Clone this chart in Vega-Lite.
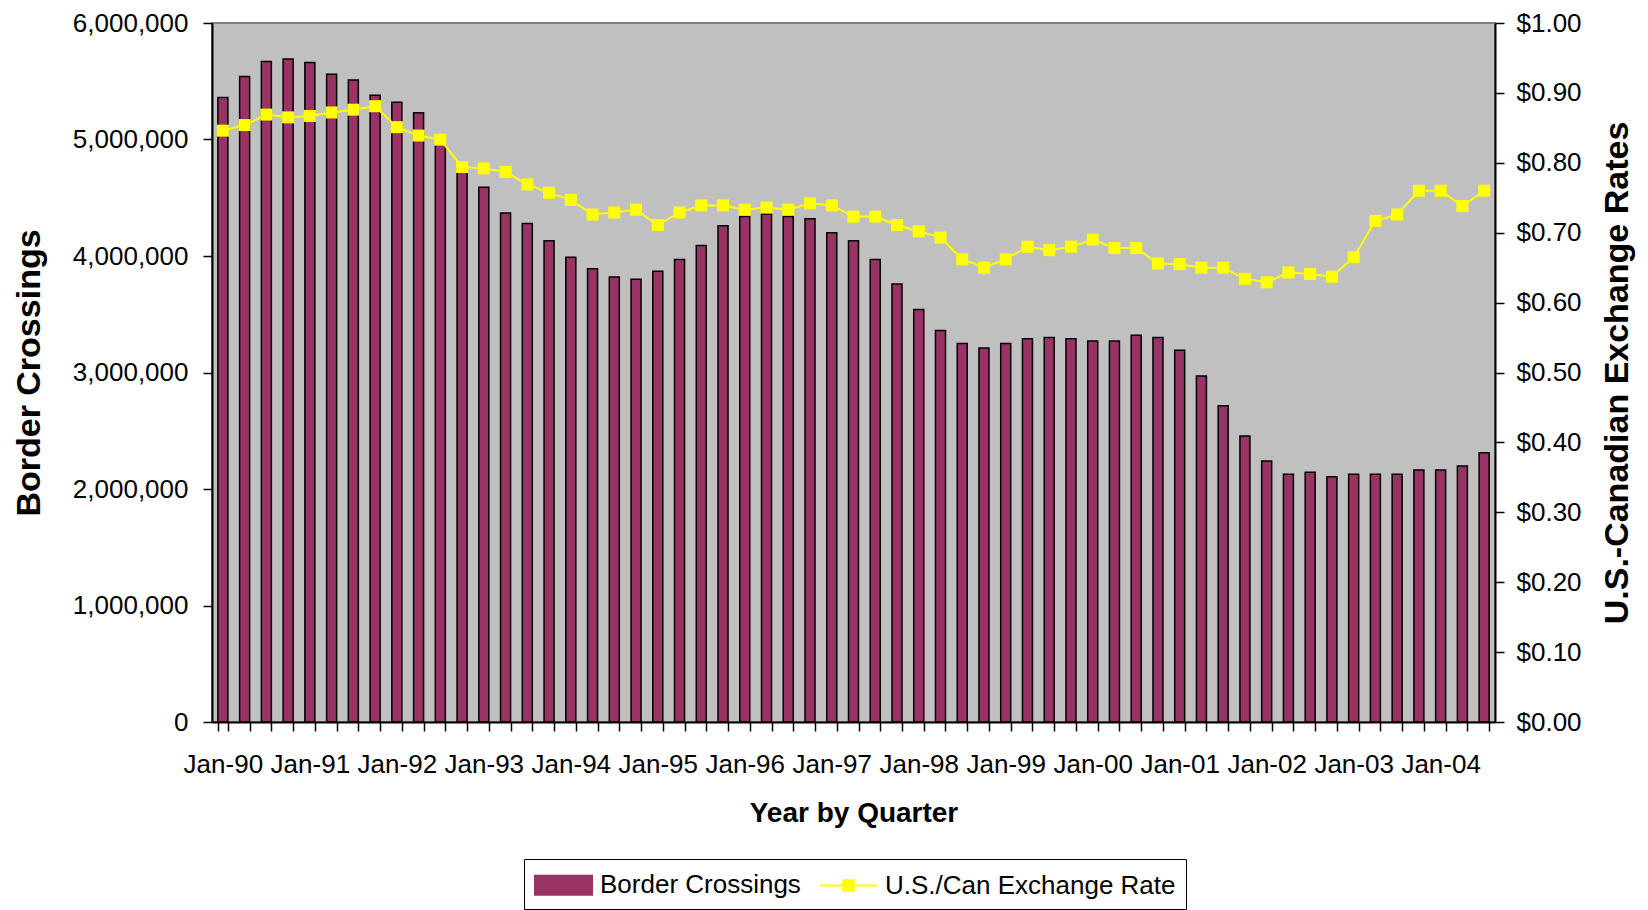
{
  "$schema": "https://vega.github.io/schema/vega-lite/v6.json",
  "width": 1283,
  "height": 699,
  "autosize": {"type": "none"},
  "padding": {"left": 212, "top": 23, "right": 153, "bottom": 188},
  "background": "white",
  "config": {
    "view": {"fill": "#c0c0c0", "stroke": "#808080", "strokeWidth": 2},
    "font": "Liberation Sans"
  },
  "data": {
    "values": [
      {"q": "Jan-90", "crossings": 5360000, "rate": 0.846},
      {"q": "Apr-90", "crossings": 5540000, "rate": 0.854},
      {"q": "Jul-90", "crossings": 5670000, "rate": 0.869},
      {"q": "Oct-90", "crossings": 5690000, "rate": 0.865},
      {"q": "Jan-91", "crossings": 5660000, "rate": 0.867},
      {"q": "Apr-91", "crossings": 5560000, "rate": 0.872},
      {"q": "Jul-91", "crossings": 5510000, "rate": 0.876},
      {"q": "Oct-91", "crossings": 5380000, "rate": 0.881},
      {"q": "Jan-92", "crossings": 5320000, "rate": 0.851},
      {"q": "Apr-92", "crossings": 5230000, "rate": 0.839},
      {"q": "Jul-92", "crossings": 4950000, "rate": 0.833},
      {"q": "Oct-92", "crossings": 4750000, "rate": 0.794},
      {"q": "Jan-93", "crossings": 4590000, "rate": 0.792},
      {"q": "Apr-93", "crossings": 4370000, "rate": 0.787},
      {"q": "Jul-93", "crossings": 4280000, "rate": 0.769},
      {"q": "Oct-93", "crossings": 4130000, "rate": 0.757},
      {"q": "Jan-94", "crossings": 3990000, "rate": 0.747},
      {"q": "Apr-94", "crossings": 3890000, "rate": 0.726},
      {"q": "Jul-94", "crossings": 3820000, "rate": 0.729},
      {"q": "Oct-94", "crossings": 3800000, "rate": 0.733},
      {"q": "Jan-95", "crossings": 3870000, "rate": 0.711},
      {"q": "Apr-95", "crossings": 3970000, "rate": 0.729},
      {"q": "Jul-95", "crossings": 4090000, "rate": 0.739},
      {"q": "Oct-95", "crossings": 4260000, "rate": 0.739},
      {"q": "Jan-96", "crossings": 4340000, "rate": 0.733},
      {"q": "Apr-96", "crossings": 4360000, "rate": 0.736},
      {"q": "Jul-96", "crossings": 4340000, "rate": 0.733},
      {"q": "Oct-96", "crossings": 4320000, "rate": 0.742},
      {"q": "Jan-97", "crossings": 4200000, "rate": 0.739},
      {"q": "Apr-97", "crossings": 4130000, "rate": 0.723},
      {"q": "Jul-97", "crossings": 3970000, "rate": 0.723},
      {"q": "Oct-97", "crossings": 3760000, "rate": 0.711},
      {"q": "Jan-98", "crossings": 3540000, "rate": 0.702},
      {"q": "Apr-98", "crossings": 3360000, "rate": 0.693},
      {"q": "Jul-98", "crossings": 3250000, "rate": 0.662},
      {"q": "Oct-98", "crossings": 3210000, "rate": 0.650},
      {"q": "Jan-99", "crossings": 3250000, "rate": 0.662},
      {"q": "Apr-99", "crossings": 3290000, "rate": 0.680},
      {"q": "Jul-99", "crossings": 3300000, "rate": 0.675},
      {"q": "Oct-99", "crossings": 3290000, "rate": 0.680},
      {"q": "Jan-00", "crossings": 3270000, "rate": 0.690},
      {"q": "Apr-00", "crossings": 3270000, "rate": 0.678},
      {"q": "Jul-00", "crossings": 3320000, "rate": 0.678},
      {"q": "Oct-00", "crossings": 3300000, "rate": 0.656},
      {"q": "Jan-01", "crossings": 3190000, "rate": 0.655},
      {"q": "Apr-01", "crossings": 2970000, "rate": 0.650},
      {"q": "Jul-01", "crossings": 2715000, "rate": 0.650},
      {"q": "Oct-01", "crossings": 2455000, "rate": 0.634},
      {"q": "Jan-02", "crossings": 2240000, "rate": 0.629},
      {"q": "Apr-02", "crossings": 2126000, "rate": 0.643},
      {"q": "Jul-02", "crossings": 2143000, "rate": 0.641},
      {"q": "Oct-02", "crossings": 2106000, "rate": 0.637},
      {"q": "Jan-03", "crossings": 2126000, "rate": 0.665},
      {"q": "Apr-03", "crossings": 2126000, "rate": 0.717},
      {"q": "Jul-03", "crossings": 2126000, "rate": 0.726},
      {"q": "Oct-03", "crossings": 2163000, "rate": 0.760},
      {"q": "Jan-04", "crossings": 2163000, "rate": 0.760},
      {"q": "Apr-04", "crossings": 2197000, "rate": 0.738},
      {"q": "Jul-04", "crossings": 2312000, "rate": 0.760}
    ]
  },
  "encoding": {
    "x": {
      "field": "q",
      "type": "ordinal",
      "sort": null,
      "scale": {"paddingInner": 0.54, "paddingOuter": 0.27},
      "axis": {
        "title": "Year by Quarter",
        "tickBand": "extent",
        "labelExpr": "slice(datum.label, 0, 3) == 'Jan' ? datum.label : ''",
        "labelAngle": 0,
        "labelOverlap": false,
        "labelFlush": false,
        "labelFont": "Liberation Sans",
        "labelFontSize": 26,
        "labelColor": "black",
        "labelPadding": 20,
        "tickColor": "black",
        "tickSize": 9,
        "tickWidth": 1.5,
        "domainColor": "black",
        "domainWidth": 2,
        "titleFont": "Liberation Sans",
        "titleFontSize": 28,
        "titleFontWeight": "bold",
        "titleColor": "black",
        "titlePadding": 22,
        "zindex": 1
      }
    }
  },
  "layer": [
    {
      "mark": {"type": "bar", "stroke": "black", "strokeWidth": 1.5},
      "encoding": {
        "y": {
          "field": "crossings",
          "type": "quantitative",
          "scale": {"domain": [0, 6000000], "nice": false},
          "axis": {
            "title": "Border Crossings",
            "values": [0, 1000000, 2000000, 3000000, 4000000, 5000000, 6000000],
            "format": ",d",
            "grid": false,
            "labelFont": "Liberation Sans",
            "labelFontSize": 26,
            "labelColor": "black",
            "labelPadding": 15,
            "tickColor": "black",
            "tickSize": 9,
            "tickWidth": 1.5,
            "domainColor": "black",
            "domainWidth": 2,
            "titleFont": "Liberation Sans",
            "titleFontSize": 34,
            "titleFontWeight": "bold",
            "titleColor": "black",
            "titlePadding": 26,
            "zindex": 1
          }
        },
        "color": {
          "datum": "Border Crossings",
          "type": "nominal",
          "scale": {
            "domain": ["Border Crossings", "U.S./Can Exchange Rate"],
            "range": ["#993366", "#ffff00"]
          },
          "legend": {
            "orient": "none",
            "legendX": 312,
            "legendY": 836,
            "direction": "horizontal",
            "title": null,
            "symbolSize": 900,
            "symbolType": {"expr": "datum.value === 'Border Crossings' ? 'M-1,-0.63H2.8V0.63H-1Z' : 'M-1,0H2.8M0.55,-0.35H1.25V0.35H0.55Z'"},
            "symbolStrokeWidth": 2,
            "symbolOpacity": 1,
            "labelFont": "Liberation Sans",
            "labelFontSize": 26,
            "labelColor": "black",
            "labelLimit": 0,
            "labelOffset": 34,
            "strokeColor": "black",
            "fillColor": "white",
            "padding": 10,
            "columnPadding": 15
          }
        }
      }
    },
    {
      "mark": {
        "type": "line",
        "strokeWidth": 2,
        "point": {"shape": "square", "size": 144, "filled": true, "color": "#ffff00", "opacity": 1}
      },
      "encoding": {
        "y": {
          "field": "rate",
          "type": "quantitative",
          "scale": {"domain": [0, 1], "nice": false},
          "axis": {
            "orient": "right",
            "title": "U.S.-Canadian Exchange Rates",
            "values": [0, 0.1, 0.2, 0.3, 0.4, 0.5, 0.6, 0.7, 0.8, 0.9, 1.0],
            "format": "$.2f",
            "grid": false,
            "labelFont": "Liberation Sans",
            "labelFontSize": 26,
            "labelColor": "black",
            "labelPadding": 12,
            "tickColor": "black",
            "tickSize": 9,
            "tickWidth": 1.5,
            "domainColor": "black",
            "domainWidth": 2,
            "titleFont": "Liberation Sans",
            "titleFontSize": 34,
            "titleFontWeight": "bold",
            "titleColor": "black",
            "titleAngle": -90,
            "titleBaseline": "top",
            "titlePadding": 19,
            "zindex": 1
          }
        },
        "color": {"datum": "U.S./Can Exchange Rate", "type": "nominal"}
      }
    }
  ],
  "resolve": {"scale": {"y": "independent"}}
}
